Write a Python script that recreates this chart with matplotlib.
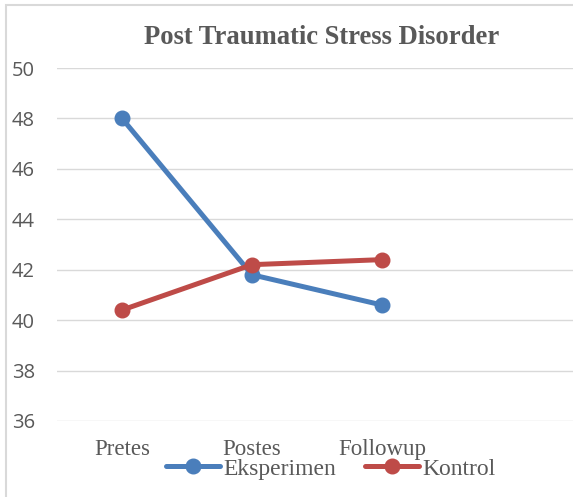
import matplotlib
matplotlib.use("Agg")
import matplotlib.pyplot as plt
from matplotlib.patches import Rectangle

# data
categories = ["Pretes", "Postes", "Followup", ""]
eksperimen = [48.0, 41.8, 40.6]
kontrol = [40.4, 42.2, 42.4]
yticks = [36, 38, 40, 42, 44, 46, 48, 50]

blue = "#4a7ebb"
red = "#be4b48"
grey_txt = "#595959"
grid_col = "#d9d9d9"
serif = ["Liberation Serif", "DejaVu Serif"]
sans = ["Open Sans", "DejaVu Sans"]

fig = plt.figure(figsize=(5.73, 4.97), dpi=100)
W, H = 573, 497

# chart frame (cropped on the right / bottom in the reference)
fig.patches.append(Rectangle((6 / W, -0.1), 1.2, 1 - 5 / H + 0.1, transform=fig.transFigure,
                             fill=False, edgecolor=grid_col, linewidth=1.5))

ax = fig.add_axes([57 / W, 1 - 421 / H, 520 / W, (421 - 68) / H])
x = list(range(len(categories)))

ax.plot(x[:len(eksperimen)], eksperimen, color=blue, lw=3.6, marker="o", ms=10.5,
        solid_capstyle="round", label="Eksperimen", zorder=3)
ax.plot(x[:len(kontrol)], kontrol, color=red, lw=3.6, marker="o", ms=10.5,
        solid_capstyle="round", label="Kontrol", zorder=3)

ax.set_xlim(-0.5, len(categories) - 0.5)
ax.set_ylim(36, 50)
ax.set_yticks(yticks)
ax.set_xticks(x, categories)
ax.grid(axis="y", color=grid_col, lw=1.0)
ax.set_axisbelow(True)
for s in ax.spines.values():
    s.set_visible(False)
ax.tick_params(axis="both", length=0)
ax.tick_params(axis="y", pad=16, labelcolor=grey_txt)
ax.tick_params(axis="x", pad=13, labelcolor=grey_txt)
for t in ax.get_yticklabels():
    t.set_fontfamily(sans)
    t.set_fontsize(14.5)
for t in ax.get_xticklabels():
    t.set_fontfamily(serif)
    t.set_fontsize(16.5)

fig.text(322 / W, 1 - 37 / H, "Post Traumatic Stress Disorder", ha="center", va="center",
         family=serif, fontsize=19.2, fontweight="bold", color=grey_txt)

leg = fig.legend(loc="center", bbox_to_anchor=(331 / W, 1 - 469 / H), ncol=2, frameon=False,
                 prop={"family": serif, "size": 17}, handlelength=2.3, handletextpad=0.15,
                 columnspacing=1.2, borderpad=0, labelcolor=grey_txt)

fig.savefig("out.png", dpi=100)
